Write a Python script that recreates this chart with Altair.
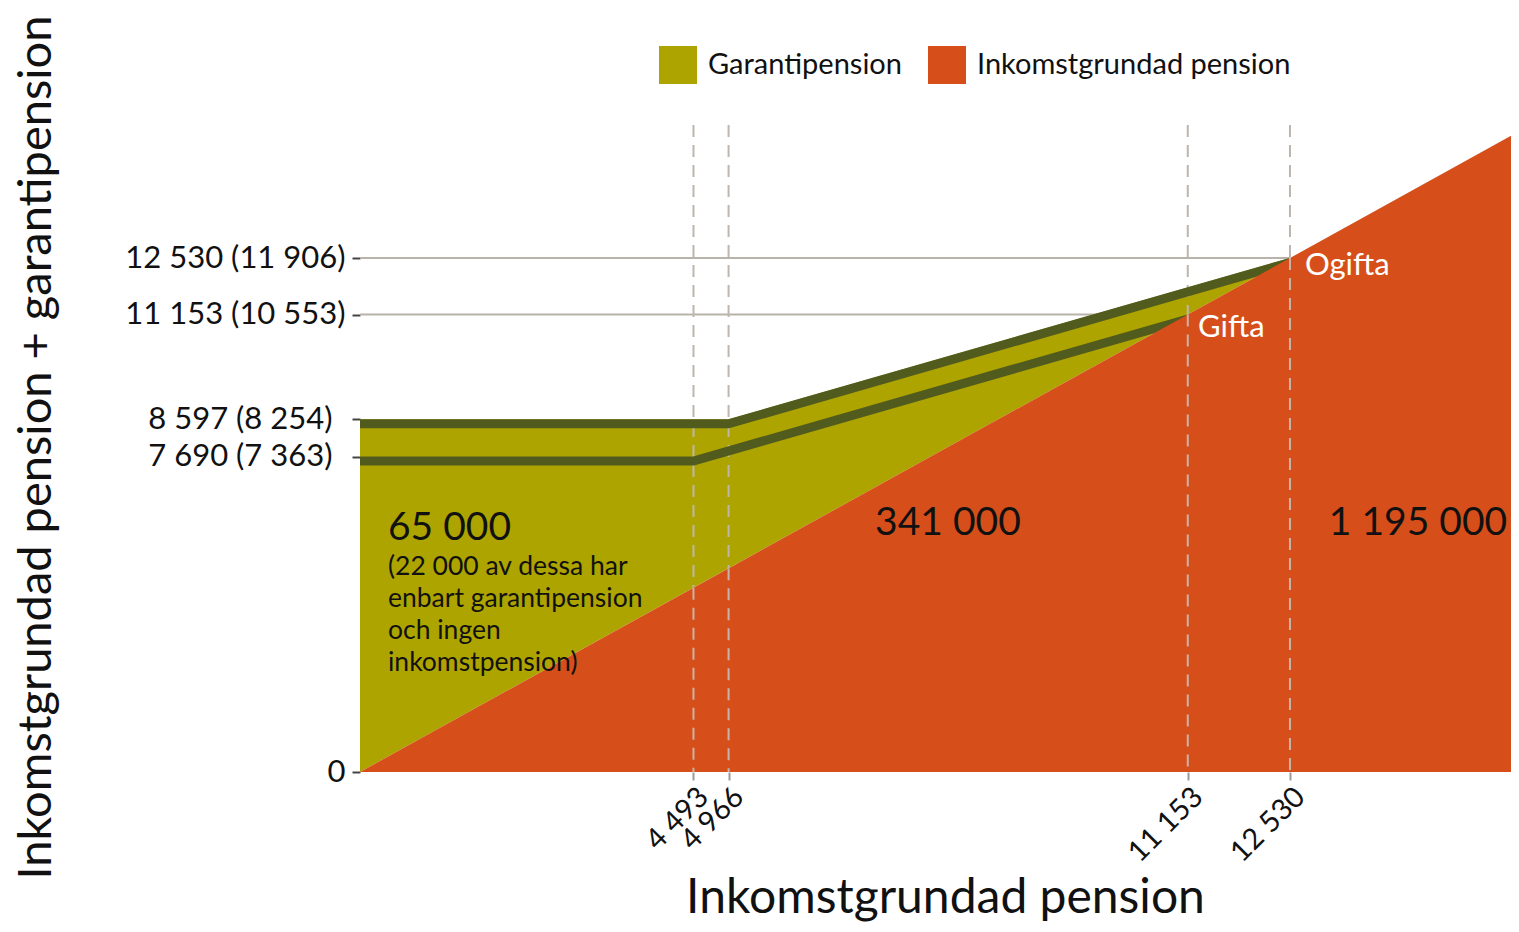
import altair as alt
import pandas as pd

FONT = "Lato"

# ---- data ----
series_names = ["Garantipension", "Inkomstgrundad pension"]
series_colors = ["#aea400", "#d64f1b"]

x_max = 15508
y_max = 15773

# Inkomstgrundad pension (diagonal: total = income pension)
ink_x = [0, 15508]
ink_y = [0, 15508]

# Garantipension fill: between diagonal and upper (ogifta) level
gar_x = [0, 4966, 12530]
gar_top = [8597, 8597, 12530]
gar_bottom = [0, 4966, 12530]

ogifta_x = [0, 4966, 12530]
ogifta_y = [8597, 8597, 12530]
gifta_x = [0, 4493, 11153]
gifta_y = [7690, 7690, 11153]

h_ref = [12530, 11153]
v_ref = [4493, 4966, 11153, 12530]

y_ticks = [0, 7690, 8597, 11153, 12530]
y_tick_labels = ["0", "7 690 (7 363)", "8 597 (8 254)", "11 153 (10 553)", "12 530 (11 906)"]
x_ticks = [4493, 4966, 11153, 12530]
x_tick_labels = ["4 493", "4 966", "11 153", "12 530"]

big_labels = ["65 000", "341 000", "1 195 000"]
big_x = [377, 7922, 14255]
big_y = [5948, 6070, 6070]
big_align = ["left", "center", "center"]

note_text = "(22 000 av dessa har\nenbart garantipension\noch ingen\ninkomstpension)"
note_x = 377
note_y = 4803

status_labels = ["Ogifta", "Gifta"]
status_x = [12732, 11291]
status_y = [12335, 10824]


def label_expr(values, labels):
    expr = "''"
    for v, l in zip(values, labels):
        expr = f"datum.value == {v} ? '{l}' : ({expr})"
    return expr


xs = alt.Scale(domain=[0, x_max], nice=False, zero=False)
ys = alt.Scale(domain=[0, y_max], nice=False, zero=False)
cs = alt.Scale(domain=series_names, range=series_colors)

legend = alt.Legend(
    orient="none", legendX=299, legendY=-79, direction="horizontal", title=None,
    symbolType="square", symbolSize=1444, symbolStrokeWidth=0, symbolOpacity=1,
    labelFontSize=29, labelFont=FONT, labelColor="#111111", labelOffset=11,
    columnPadding=26, labelLimit=500,
)

x_axis = alt.Axis(
    values=x_ticks, labelExpr=label_expr(x_ticks, x_tick_labels), labelAngle=315,
    labelAlign="right", labelBaseline="top", labelFontSize=29, labelFont=FONT,
    labelColor="#111111", tickColor="#9a9a9a", tickSize=8, tickWidth=2, domain=False,
    grid=False, labelPadding=2, labelOverlap=False, labelLimit=300,
    title="Inkomstgrundad pension", titleFont=FONT,
    titleFontSize=48, titleFontWeight="normal", titleColor="#111111",
    titleX=585, titleY=140, titleBaseline="alphabetic", titleAlign="center",
)
y_axis = alt.Axis(
    values=y_ticks, labelExpr=label_expr(y_ticks, y_tick_labels), labelFontSize=31,
    labelFont=FONT, labelColor="#111111", tickColor="#444444", tickSize=8, tickWidth=2,
    domain=False, grid=False, labelLimit=400,
    labelPadding={"condition": {"test": "datum.value > 1 && datum.value < 10000", "value": 20}, "value": 7},
    title="Inkomstgrundad pension + garantipension", titleFont=FONT, titleFontSize=47,
    titleFontWeight="normal", titleColor="#111111", titleAngle=270,
    titleX=-324, titleY=322, titleBaseline="middle", titleAlign="center",
)

ink_df = pd.DataFrame({"x": ink_x, "y": ink_y, "y2": [0, 0], "s": series_names[1]})
gar_df = pd.DataFrame({"x": gar_x, "y": gar_top, "y2": gar_bottom, "s": series_names[0]})

red = alt.Chart(ink_df).mark_area(opacity=1).encode(
    x=alt.X("x:Q", scale=xs, axis=x_axis),
    y=alt.Y("y:Q", scale=ys, axis=y_axis),
    y2="y2:Q",
    color=alt.Color("s:N", scale=cs, legend=legend, sort=series_names),
)
olive = alt.Chart(gar_df).mark_area(opacity=1).encode(
    x=alt.X("x:Q", scale=xs),
    y=alt.Y("y:Q", scale=ys),
    y2="y2:Q",
    color=alt.Color("s:N", scale=cs, legend=legend, sort=series_names),
)

h_df = pd.DataFrame({"y": h_ref, "x2": h_ref, "x": [0] * len(h_ref)})
hrules = alt.Chart(h_df).mark_rule(color="#b9b3ab", strokeWidth=2).encode(
    x=alt.X("x:Q", scale=xs), x2="x2:Q", y=alt.Y("y:Q", scale=ys)
)
v_df = pd.DataFrame({"x": v_ref, "y0": [0] * len(v_ref), "ytop": [y_max] * len(v_ref), "ydiag": v_ref})
vrules_full = alt.Chart(v_df).mark_rule(color="#bdb6ae", strokeWidth=2, strokeDash=[12, 8]).encode(
    x=alt.X("x:Q", scale=xs), y=alt.Y("ytop:Q", scale=ys), y2="y0:Q"
)
vrules_low = alt.Chart(v_df).mark_rule(color="#c9b3a6", strokeWidth=2, strokeDash=[12, 8]).encode(
    x=alt.X("x:Q", scale=xs), y=alt.Y("ydiag:Q", scale=ys), y2="y0:Q"
)

lines_df = pd.concat([
    pd.DataFrame({"x": ogifta_x, "y": ogifta_y, "g": "Ogifta"}),
    pd.DataFrame({"x": gifta_x, "y": gifta_y, "g": "Gifta"}),
])
lines = alt.Chart(lines_df).mark_line(color="#525b1e", strokeWidth=9, yOffset=4.5, strokeJoin="miter").encode(
    x=alt.X("x:Q", scale=xs), y=alt.Y("y:Q", scale=ys), detail="g:N"
)

big_df = pd.DataFrame({"x": big_x, "y": big_y, "t": big_labels, "a": big_align})
big_left = alt.Chart(big_df[big_df.a == "left"]).mark_text(
    font=FONT, fontSize=39, color="#111111", align="left", baseline="middle"
).encode(x=alt.X("x:Q", scale=xs), y=alt.Y("y:Q", scale=ys), text="t:N")
big_center = alt.Chart(big_df[big_df.a == "center"]).mark_text(
    font=FONT, fontSize=39, color="#111111", align="center", baseline="middle"
).encode(x=alt.X("x:Q", scale=xs), y=alt.Y("y:Q", scale=ys), text="t:N")

note_df = pd.DataFrame({"x": [note_x], "y": [note_y], "t": [note_text]})
note = alt.Chart(note_df).mark_text(
    font=FONT, fontSize=26.5, color="#111111", align="left", baseline="alphabetic",
    lineBreak="\n", lineHeight=32,
).encode(x=alt.X("x:Q", scale=xs), y=alt.Y("y:Q", scale=ys), text="t:N")

st_df = pd.DataFrame({"x": status_x, "y": status_y, "t": status_labels})
status = alt.Chart(st_df).mark_text(
    font=FONT, fontSize=31, color="#ffffff", align="left", baseline="middle"
).encode(x=alt.X("x:Q", scale=xs), y=alt.Y("y:Q", scale=ys), text="t:N")

chart = alt.layer(
    hrules, olive, vrules_full, lines, red, vrules_low, big_left, big_center, note, status
).properties(
    width=1151, height=647,
    padding={"left": 352, "top": 117, "right": 0, "bottom": 150},
    autosize=alt.AutoSizeParams(type="none"),
).configure_view(strokeWidth=0)

chart.save("out.html", embed_options={"renderer": "svg", "actions": False})
